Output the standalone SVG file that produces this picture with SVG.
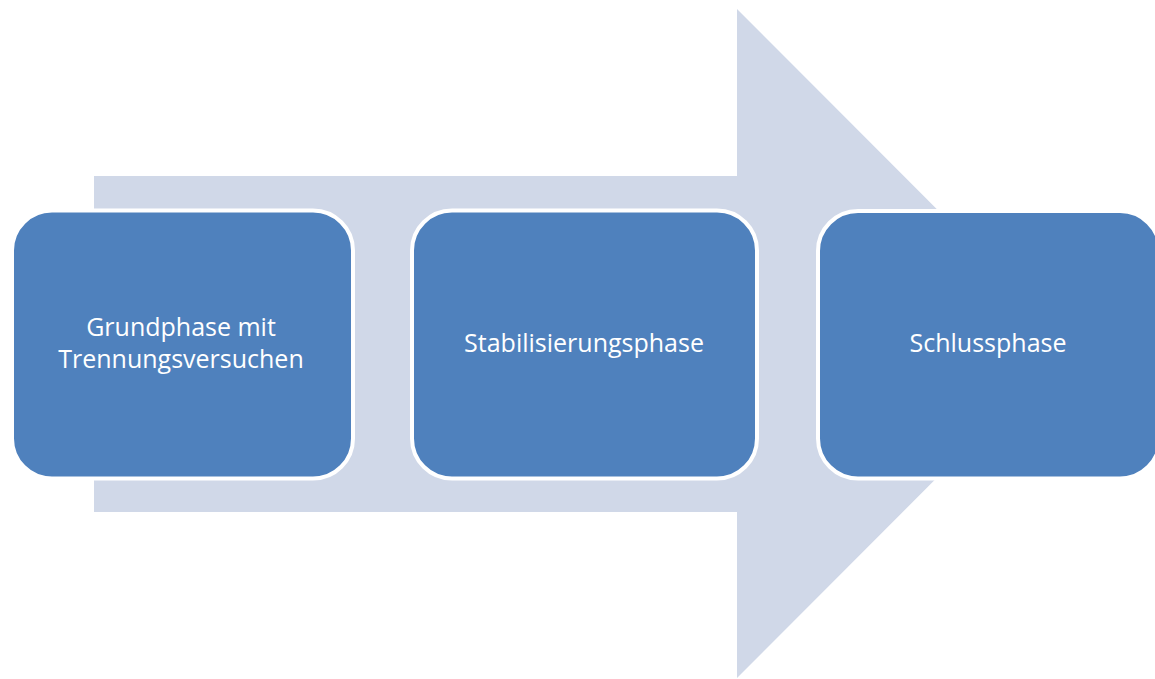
<svg xmlns="http://www.w3.org/2000/svg" width="1155" height="679" viewBox="0 0 1155 679">
<style>
.box{fill:#4F81BD;stroke:#FFFFFF;stroke-width:4}
.lbl{font-family:"Open Sans","Liberation Sans",sans-serif;font-size:25px;fill:#FFFFFF;text-anchor:middle}
</style>
<rect width="1155" height="679" fill="#FFFFFF"/>
<g id="arrow">
<polygon points="94,176 737,176 737,9 1071,343.5 737,678 737,512 94,512" fill="#D0D8E8"/>
</g>
<g id="connectors"></g>
<g id="node1">
<rect class="box" x="12" y="210.5" width="341" height="268" rx="40" ry="40"/>
<text class="lbl" x="181" y="336">Grundphase mit</text>
<text class="lbl" x="181" y="368">Trennungsversuchen</text>
</g>
<g id="node2">
<rect class="box" x="412" y="210.5" width="345" height="268" rx="40" ry="40"/>
<text class="lbl" x="584" y="352">Stabilisierungsphase</text>
</g>
<g id="node3">
<rect class="box" x="818" y="211" width="342" height="267.5" rx="40" ry="40"/>
<text class="lbl" x="988" y="352">Schlussphase</text>
</g>
</svg>
